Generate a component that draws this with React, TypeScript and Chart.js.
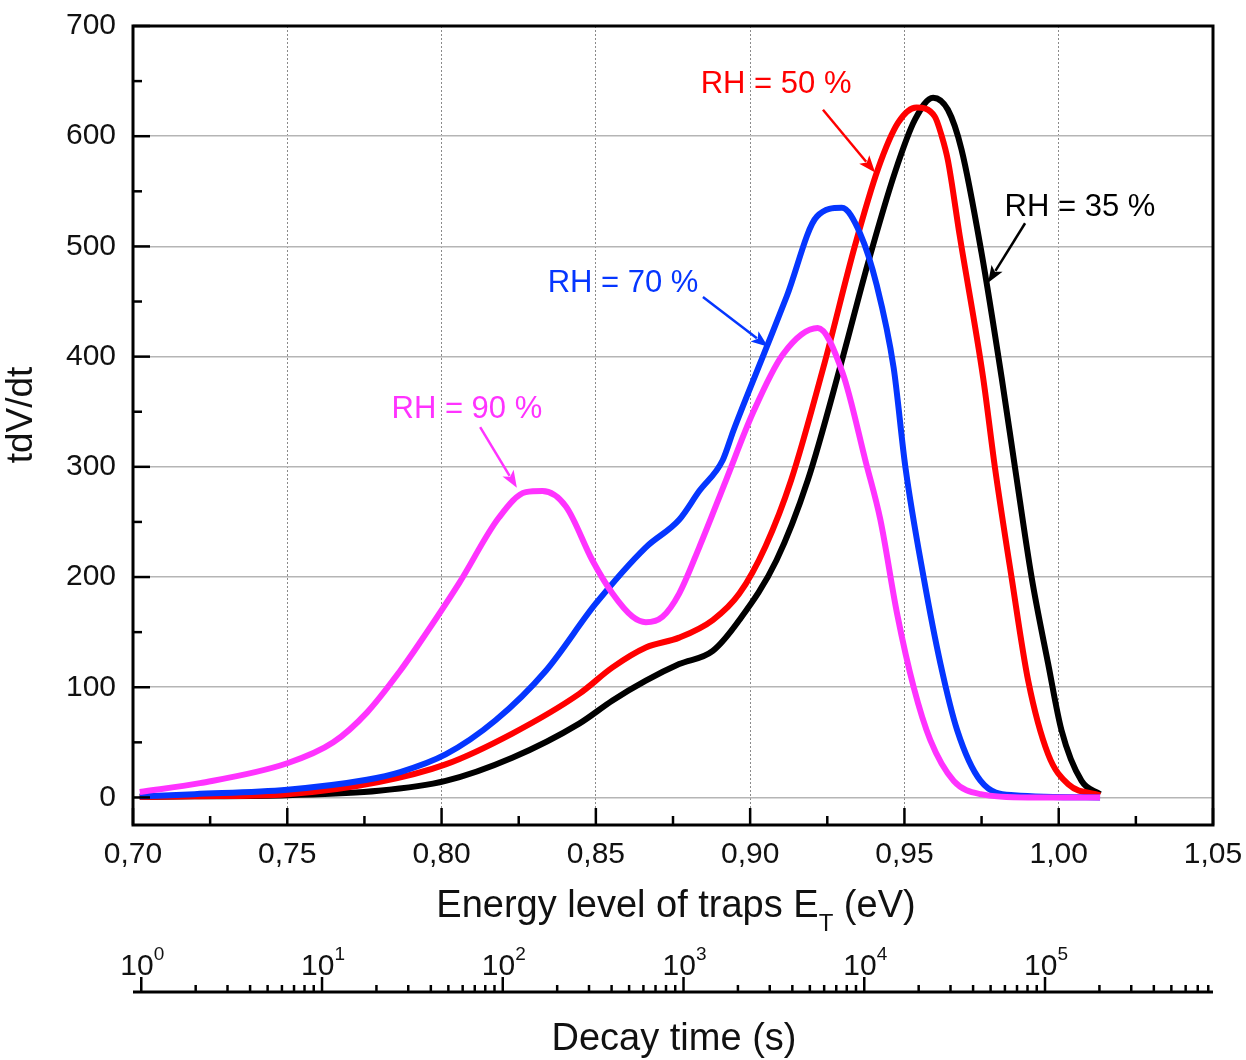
import { useEffect, useRef } from 'react';
import { Chart, registerables } from 'chart.js';

Chart.register(...registerables);

const FONT = "'Liberation Sans', Arial, Helvetica, sans-serif";

// ---- axes ----
const xTickValues = [0.70, 0.75, 0.80, 0.85, 0.90, 0.95, 1.00, 1.05];
const xMinorTicks = [0.725, 0.775, 0.825, 0.875, 0.925, 0.975, 1.025];
const yTickValues = [0, 100, 200, 300, 400, 500, 600, 700];
const yMinorTicks = [50, 150, 250, 350, 450, 550, 650];
const decayExponents = [0, 1, 2, 3, 4, 5];
const decayMin = 0.9;
const decayMax = 850000;

// ---- series (energy in eV, tdV/dt) ----
const rh35Energy = [0.7022, 0.72, 0.75, 0.7796, 0.8013, 0.8229, 0.8446, 0.8554, 0.8662, 0.877, 0.8879, 0.8965, 0.9085, 0.9187, 0.9295, 0.9382, 0.9469, 0.9534, 0.9593, 0.9641, 0.9685, 0.975, 0.9815, 0.9858, 0.9912, 0.9966, 1.0009, 1.0074, 1.0134];
const rh35Values = [0.5, 1, 2, 6, 15, 36, 67, 88, 106, 121, 133, 161, 215, 288, 394, 485, 567, 615, 635, 624, 588, 494, 381, 300, 200, 121, 61, 15, 3];

const rh50Energy = [0.7022, 0.72, 0.75, 0.7796, 0.8013, 0.8229, 0.8446, 0.8554, 0.8662, 0.877, 0.8879, 0.8965, 0.905, 0.9133, 0.9241, 0.9339, 0.9414, 0.9479, 0.9539, 0.9598, 0.962, 0.9641, 0.9679, 0.9755, 0.9793, 0.9847, 0.9901, 0.9966, 1.0031, 1.0134];
const rh50Values = [0.5, 1, 3, 14, 30, 58, 94, 118, 136, 145, 161, 185, 228, 288, 394, 500, 570, 612, 626, 618, 601, 578, 510, 381, 300, 200, 106, 39, 12, 2];

const rh70Energy = [0.7022, 0.72, 0.75, 0.7758, 0.7866, 0.8013, 0.8175, 0.8338, 0.85, 0.8662, 0.877, 0.8835, 0.8911, 0.8946, 0.9054, 0.9119, 0.9216, 0.9297, 0.9356, 0.9411, 0.9465, 0.9503, 0.9562, 0.9617, 0.9671, 0.9747, 0.9855, 1.0134];
const rh70Values = [1, 3, 7, 16, 23, 39, 70, 115, 176, 227, 252, 278, 306, 333, 409, 455, 527, 535, 512, 464, 390, 300, 200, 121, 61, 15, 2, 0];

const rh90Energy = [0.7022, 0.7217, 0.75, 0.7649, 0.7758, 0.7866, 0.7926, 0.8056, 0.8186, 0.8273, 0.8327, 0.8403, 0.8489, 0.8554, 0.8619, 0.8662, 0.8716, 0.877, 0.8835, 0.8922, 0.9009, 0.9106, 0.9219, 0.93, 0.9376, 0.9422, 0.9476, 0.953, 0.9584, 0.966, 0.9747, 0.99, 1.0134];
const rh90Values = [5, 13, 31, 50, 77, 115, 139, 194, 254, 277, 278, 264, 215, 185, 164, 159, 164, 185, 227, 288, 349, 402, 426, 385, 303, 252, 167, 100, 52, 15, 3, 0, 0];

const COLORS = { rh35: '#000000', rh50: '#ff0000', rh70: '#0536ff', rh90: '#ff33ff' };

// annotation labels in data coordinates [energy, value]
const annotations = [
  { text: 'RH = 50 %', color: COLORS.rh50, at: [0.9084, 648], from: [0.9236, 624], to: [0.9405, 567] },
  { text: 'RH = 35 %', color: COLORS.rh35, at: [1.0069, 536], from: [0.9891, 521], to: [0.9771, 467] },
  { text: 'RH = 70 %', color: COLORS.rh70, at: [0.8588, 467], from: [0.8847, 454], to: [0.9058, 409] },
  { text: 'RH = 90 %', color: COLORS.rh90, at: [0.8082, 353], from: [0.8125, 336], to: [0.8244, 281] },
];

const toPoints = (xs: number[], ys: number[]) => xs.map((x, i) => ({ x, y: ys[i] }));

function drawArrow(ctx: CanvasRenderingContext2D, x1: number, y1: number, x2: number, y2: number, color: string) {
  const ang = Math.atan2(y2 - y1, x2 - x1);
  const headLen = 17;
  const headW = 6.5;
  const bx = x2 - headLen * Math.cos(ang);
  const by = y2 - headLen * Math.sin(ang);
  ctx.strokeStyle = color;
  ctx.fillStyle = color;
  ctx.lineWidth = 2.5;
  ctx.beginPath();
  ctx.moveTo(x1, y1);
  ctx.lineTo(bx + 3 * Math.cos(ang), by + 3 * Math.sin(ang));
  ctx.stroke();
  ctx.beginPath();
  ctx.moveTo(x2, y2);
  ctx.lineTo(bx + headW * Math.sin(ang), by - headW * Math.cos(ang));
  ctx.lineTo(bx + 4 * Math.cos(ang), by + 4 * Math.sin(ang));
  ctx.lineTo(bx - headW * Math.sin(ang), by + headW * Math.cos(ang));
  ctx.closePath();
  ctx.fill();
}

const decorPlugin = {
  id: 'decor',
  afterDatasetsDraw(chart: any) {
    const ctx: CanvasRenderingContext2D = chart.ctx;
    const xs = chart.scales.x;
    const ys = chart.scales.y;
    ctx.save();
    ctx.font = `31px ${FONT}`;
    ctx.textAlign = 'center';
    ctx.textBaseline = 'middle';
    annotations.forEach((a) => {
      ctx.fillStyle = a.color;
      ctx.fillText(a.text, xs.getPixelForValue(a.at[0]), ys.getPixelForValue(a.at[1]) + 1);
      drawArrow(
        ctx,
        xs.getPixelForValue(a.from[0]), ys.getPixelForValue(a.from[1]),
        xs.getPixelForValue(a.to[0]), ys.getPixelForValue(a.to[1]),
        a.color,
      );
    });
    ctx.restore();
  },
  afterDraw(chart: any) {
    const ctx: CanvasRenderingContext2D = chart.ctx;
    const { left, right, top, bottom } = chart.chartArea;
    const xs = chart.scales.x;
    const ys = chart.scales.y;
    const ts = chart.scales.t;
    ctx.save();
    ctx.strokeStyle = '#000';
    // frame
    ctx.lineWidth = 3;
    ctx.strokeRect(left, top, right - left, bottom - top);
    // inward ticks
    ctx.lineWidth = 2.5;
    const seg = (x1: number, y1: number, x2: number, y2: number) => {
      ctx.beginPath();
      ctx.moveTo(x1, y1);
      ctx.lineTo(x2, y2);
      ctx.stroke();
    };
    xTickValues.forEach((v) => { const p = xs.getPixelForValue(v); seg(p, bottom, p, bottom - 17); });
    xMinorTicks.forEach((v) => { const p = xs.getPixelForValue(v); seg(p, bottom, p, bottom - 9); });
    yTickValues.forEach((v) => { const p = ys.getPixelForValue(v); seg(left, p, left + 17, p); });
    yMinorTicks.forEach((v) => { const p = ys.getPixelForValue(v); seg(left, p, left + 9, p); });

    ctx.fillStyle = '#111';
    // x title with subscript
    const titleY = bottom + 92;
    ctx.textBaseline = 'alphabetic';
    ctx.textAlign = 'left';
    const partA = 'Energy level of traps E';
    const partSub = 'T';
    const partB = ' (eV)';
    ctx.font = `38px ${FONT}`;
    const wa = ctx.measureText(partA).width;
    const wb = ctx.measureText(partB).width;
    ctx.font = `24px ${FONT}`;
    const ws = ctx.measureText(partSub).width;
    const sx = 676 - (wa + ws + wb) / 2;
    ctx.font = `38px ${FONT}`;
    ctx.fillText(partA, sx, titleY);
    ctx.font = `24px ${FONT}`;
    ctx.fillText(partSub, sx + wa, titleY + 14);
    ctx.font = `38px ${FONT}`;
    ctx.fillText(partB, sx + wa + ws, titleY);

    // y title
    ctx.save();
    ctx.translate(32, 415);
    ctx.rotate(-Math.PI / 2);
    ctx.textAlign = 'center';
    ctx.font = `37px ${FONT}`;
    ctx.fillText('tdV/dt', 0, 0);
    ctx.restore();

    // decay-time log axis
    const axisY = bottom + 167;
    ctx.lineWidth = 3;
    seg(left, axisY, right, axisY);
    ctx.lineWidth = 2.5;
    decayExponents.forEach((n) => {
      const p = ts.getPixelForValue(Math.pow(10, n));
      seg(p, axisY, p, axisY - 15);
      for (let m = 2; m <= 9; m++) {
        const v = m * Math.pow(10, n);
        if (v > decayMax) break;
        const q = ts.getPixelForValue(v);
        seg(q, axisY, q, axisY - 7);
      }
      ctx.font = `30px ${FONT}`;
      const w10 = ctx.measureText('10').width;
      ctx.font = `19px ${FONT}`;
      const we = ctx.measureText(String(n)).width;
      const st = p - (w10 + we) / 2 + 1;
      ctx.font = `30px ${FONT}`;
      ctx.fillText('10', st, axisY - 17);
      ctx.font = `19px ${FONT}`;
      ctx.fillText(String(n), st + w10, axisY - 32);
    });
    ctx.textAlign = 'center';
    ctx.font = `38px ${FONT}`;
    ctx.fillText('Decay time (s)', 674, bottom + 225);
    ctx.restore();
  },
};

export default function App() {
  const ref = useRef<HTMLCanvasElement>(null);
  useEffect(() => {
    document.body.style.margin = '0';
    const mk = (label: string, xs: number[], ys: number[], color: string, order: number) => ({
      label,
      data: toPoints(xs, ys),
      borderColor: color,
      backgroundColor: color,
      borderWidth: 6,
      pointRadius: 0,
      cubicInterpolationMode: 'monotone' as const,
      fill: false,
      order,
      xAxisID: 'x',
      yAxisID: 'y',
    });
    const chart = new Chart(ref.current as HTMLCanvasElement, {
      type: 'line',
      data: {
        datasets: [
          mk('RH = 35 %', rh35Energy, rh35Values, COLORS.rh35, 3),
          mk('RH = 50 %', rh50Energy, rh50Values, COLORS.rh50, 2),
          mk('RH = 70 %', rh70Energy, rh70Values, COLORS.rh70, 1),
          mk('RH = 90 %', rh90Energy, rh90Values, COLORS.rh90, 0),
        ],
      },
      options: {
        animation: false,
        responsive: false,
        devicePixelRatio: 1,
        layout: { padding: { top: 26, right: 33, left: 0, bottom: 0 } },
        plugins: { legend: { display: false }, tooltip: { enabled: false } },
        scales: {
          x: {
            type: 'linear',
            position: 'bottom',
            min: 0.70,
            max: 1.05,
            weight: 0,
            afterBuildTicks: (s: any) => { s.ticks = xTickValues.map((value) => ({ value })); },
            afterFit: (s: any) => { s.height = 160; },
            grid: {
              drawTicks: true,
              tickLength: 12,
              tickColor: 'rgba(0,0,0,0)',
              lineWidth: 1,
              color: (c: any) => (c.tick && (c.tick.value <= 0.701 || c.tick.value >= 1.049) ? 'rgba(0,0,0,0)' : '#8a8a8a'),
            },
            border: { display: false, dash: [2, 2] },
            ticks: {
              padding: 0,
              color: '#111',
              font: { family: FONT, size: 30 },
              maxRotation: 0,
              autoSkip: false,
              callback: (v: any) => Number(v).toFixed(2).replace('.', ','),
            },
          },
          t: {
            type: 'logarithmic',
            position: 'bottom',
            axis: 'x',
            min: decayMin,
            max: decayMax,
            weight: 1,
            afterFit: (s: any) => { s.height = 75; },
            grid: { display: false, drawTicks: false },
            border: { display: false },
            ticks: { display: false },
          },
          y: {
            type: 'linear',
            min: -25,
            max: 700,
            afterBuildTicks: (s: any) => { s.ticks = yTickValues.map((value) => ({ value })); },
            afterFit: (s: any) => { s.width = 133; },
            grid: {
              drawTicks: true,
              tickLength: 17,
              tickColor: 'rgba(0,0,0,0)',
              lineWidth: 1.5,
              color: (c: any) => (c.tick && c.tick.value >= 700 ? 'rgba(0,0,0,0)' : '#b5b5b5'),
            },
            border: { display: false },
            ticks: {
              padding: 0,
              color: '#111',
              font: { family: FONT, size: 30 },
              callback: (v: any) => String(v),
            },
          },
        },
      } as any,
      plugins: [decorPlugin],
    });
    return () => chart.destroy();
  }, []);
  return (
    <div style={{ width: 1246, height: 1060 }}>
      <canvas ref={ref} width={1246} height={1060} style={{ display: 'block' }} />
    </div>
  );
}
